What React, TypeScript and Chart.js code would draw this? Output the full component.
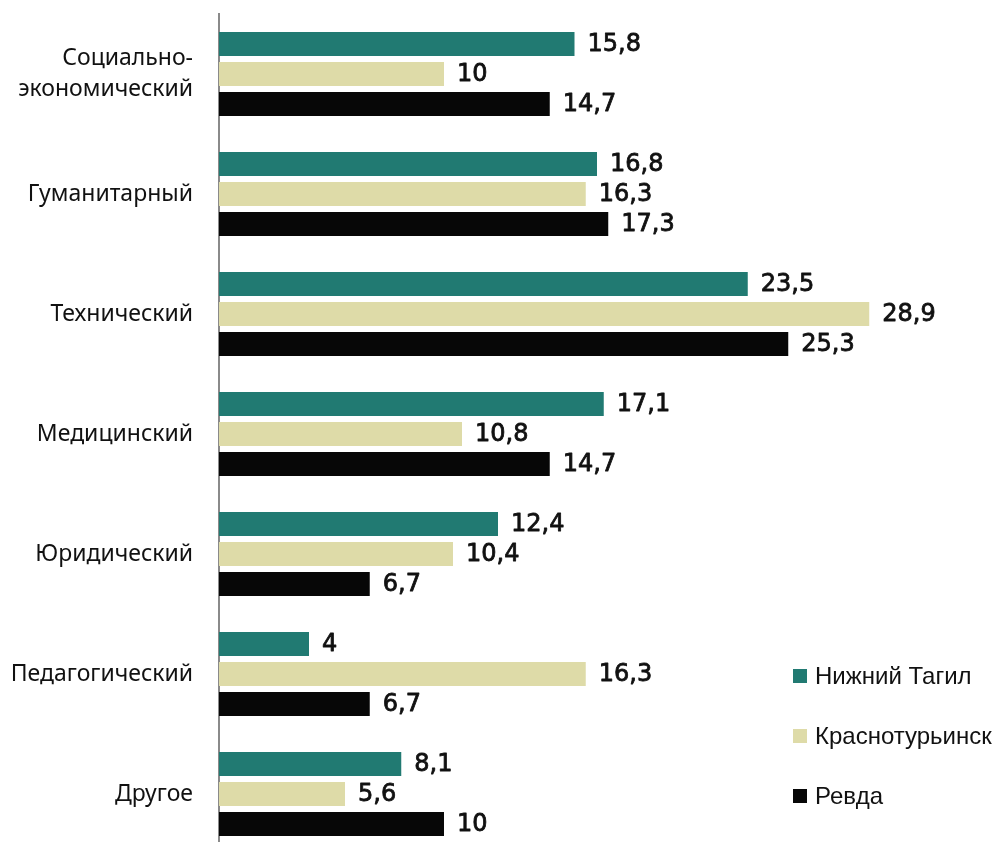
import React, { useEffect, useRef } from "react";
import { Chart, registerables } from "chart.js";

Chart.register(...registerables);

const categories: (string | string[])[] = [
  ["Социально-", "экономический"],
  "Гуманитарный",
  "Технический",
  "Медицинский",
  "Юридический",
  "Педагогический",
  "Другое",
];
const seriesNames = ["Нижний Тагил", "Краснотурьинск", "Ревда"];
const nizhnyTagil = [15.8, 16.8, 23.5, 17.1, 12.4, 4, 8.1];
const krasnoturinsk = [10, 16.3, 28.9, 10.8, 10.4, 16.3, 5.6];
const revda = [14.7, 17.3, 25.3, 14.7, 6.7, 6.7, 10];
const colors = ["#217a72", "#dedba8", "#070707"];

const valueLabels = {
  id: "valueLabels",
  afterDatasetsDraw(chart: any) {
    const ctx = chart.ctx;
    ctx.save();
    ctx.font = "24px 'DejaVu Sans'";
    ctx.fillStyle = "#111111";
    ctx.strokeStyle = "#111111";
    ctx.lineWidth = 0.8;
    ctx.lineJoin = "round";
    ctx.textAlign = "left";
    ctx.textBaseline = "middle";
    chart.data.datasets.forEach((ds: any, di: number) => {
      const meta = chart.getDatasetMeta(di);
      meta.data.forEach((bar: any, i: number) => {
        const t = String(ds.data[i]).replace(".", ",");
        ctx.fillText(t, bar.x + 13, bar.y + 1);
        ctx.strokeText(t, bar.x + 13, bar.y + 1);
      });
    });
    ctx.restore();
  },
};

export default function App() {
  const ref = useRef<HTMLCanvasElement>(null);
  useEffect(() => {
    if (!ref.current) return;
    const data = [nizhnyTagil, krasnoturinsk, revda];
    const chart = new Chart(ref.current, {
      type: "bar",
      data: {
        labels: categories as any,
        datasets: seriesNames.map((name, i) => ({
          label: name,
          data: data[i],
          backgroundColor: colors[i],
          borderWidth: 0,
          barPercentage: 0.8,
          categoryPercentage: 0.75,
        })),
      },
      options: {
        indexAxis: "y",
        animation: false,
        responsive: false,
        layout: { padding: { top: 14, bottom: 6, left: 0, right: 108 } },
        plugins: { legend: { display: false }, tooltip: { enabled: false } },
        scales: {
          x: { display: false, min: 0, max: 30 },
          y: {
            afterFit: (s: any) => {
              s.width = 219;
              s.paddingTop = 0;
              s.paddingBottom = 0;
            },
            grid: { display: false, drawTicks: false },
            border: { display: true, color: "#8a8a8a", width: 2 },
            ticks: {
              padding: 26,
              color: "#111111",
              font: { family: "'Noto Sans'", size: 23, lineHeight: 1.38 },
            },
          },
        },
      },
      plugins: [valueLabels],
    });
    return () => chart.destroy();
  }, []);

  return (
    <div
      style={{
        position: "fixed",
        left: 0,
        top: 0,
        width: 1002,
        height: 842,
        overflow: "hidden",
        background: "#ffffff",
      }}
    >
      <canvas ref={ref} width={1002} height={860} style={{ display: "block" }} />
      <div
        style={{
          position: "absolute",
          left: 793,
          top: 660,
          fontFamily: "'Liberation Sans', Arial, sans-serif",
          fontSize: 24,
          color: "#111111",
        }}
      >
        {seriesNames.map((n, i) => (
          <div key={n} style={{ display: "flex", alignItems: "center", height: 32, marginBottom: 28 }}>
            <span style={{ width: 14, height: 14, background: colors[i], display: "inline-block", marginRight: 8, flex: "none" }} />
            <span style={{ whiteSpace: "nowrap" }}>{n}</span>
          </div>
        ))}
      </div>
    </div>
  );
}
